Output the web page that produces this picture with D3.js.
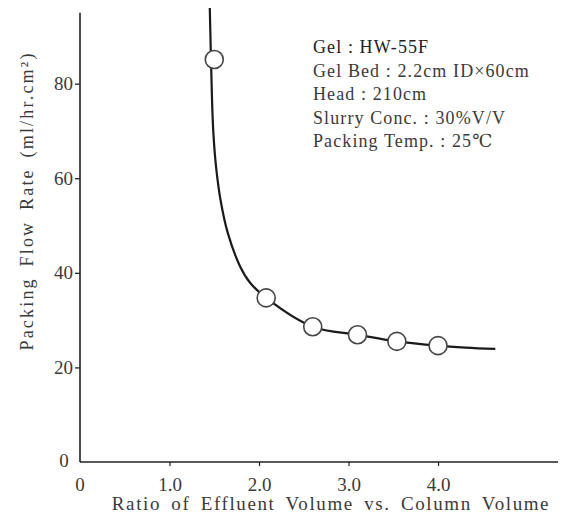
<!DOCTYPE html>
<html>
<head>
<meta charset="utf-8">
<script src="https://cdn.jsdelivr.net/npm/d3@7"></script>
<style>
  body { margin: 0; background: #fff; }
  svg { display: block; }
  text { font-family: 'Liberation Serif', 'DejaVu Serif', serif; fill: #3a3a3a; }
</style>
</head>
<body>
<div id="chart"><svg width="579" height="528"></svg></div>
<script>
// measured circles
const pointX = [1.50, 2.08, 2.60, 3.10, 3.54, 4.00];
const pointY = [85.1, 34.7, 28.6, 26.9, 25.5, 24.6];

// hand-drawn trend curve, read along its path
const curveX = [1.45, 1.475, 1.49, 1.52, 1.57, 1.65, 1.79, 1.90, 2.08, 2.60, 3.10, 3.54, 4.00, 4.31, 4.64];
const curveY = [96, 76.6, 69.6, 62.4, 55.4, 48.5, 41.3, 37.9, 34.7, 28.6, 26.9, 25.5, 24.6, 24.2, 23.9];

const xTicks = [1, 2, 3, 4];
const xTickLabels = ['1.0', '2.0', '3.0', '4.0'];
const yTicks = [20, 40, 60, 80];

const notes = [
  'Gel : HW-55F',
  'Gel Bed : 2.2cm ID×60cm',
  'Head : 210cm',
  'Slurry Conc. : 30%V/V',
  'Packing Temp. : 25℃',
];

const SVG = d3.select('#chart svg');

const X0 = 80;
const Y0 = 462;
const FONT = "'Liberation Serif', serif";

const X_SCALE = d3.scaleLinear().domain([0, 5.34]).range([X0, 558]);
const Y_SCALE = d3.scaleLinear().domain([0, 96]).range([Y0, 8]);

// y axis
const Y_AXIS = d3.axisLeft(Y_SCALE).tickValues(yTicks).tickSize(5).tickSizeOuter(0).tickPadding(2);
const Y_GROUP = SVG.append('g').attr('transform', `translate(${X0},0)`).call(Y_AXIS);
Y_GROUP.select('.domain').attr('d', `M0,${Y_SCALE(95)}V${Y0}`).style('stroke', '#222').style('stroke-width', 1.6);
Y_GROUP.selectAll('line').style('stroke', '#222').style('stroke-width', 1.3);
Y_GROUP.selectAll('text')
  .style('font-size', '19px')
  .style('font-family', FONT)
  .style('fill', '#3a3a3a');

// x axis
const X_AXIS = d3.axisBottom(X_SCALE).tickValues(xTicks).tickFormat((d, i) => xTickLabels[i]).tickSize(4).tickSizeOuter(0);
const X_GROUP = SVG.append('g').attr('transform', `translate(0,${Y0})`).call(X_AXIS);
X_GROUP.select('.domain').attr('d', `M${X0},0H${X_SCALE(5.34)}`).style('stroke', '#222').style('stroke-width', 1.6);
X_GROUP.selectAll('line').style('stroke', '#222').style('stroke-width', 1.2);
X_GROUP.selectAll('text')
  .attr('y', 29)
  .attr('dy', null)
  .style('font-size', '19px')
  .style('font-family', FONT)
  .style('fill', '#3a3a3a');

// zeros at the origin
SVG.append('text').attr('x', 64).attr('y', Y0 + 5).attr('text-anchor', 'middle').style('font-size', '19px').text('0');
SVG.append('text').attr('x', X0).attr('y', Y0 + 29).attr('text-anchor', 'middle').style('font-size', '19px').text('0');

// axis titles
SVG.append('text')
  .attr('x', 331)
  .attr('y', 510)
  .attr('text-anchor', 'middle')
  .style('font-size', '19px')
  .style('letter-spacing', '1.6px')
  .style('word-spacing', '4px')
  .text('Ratio of Effluent Volume vs. Column Volume');

SVG.append('text')
  .attr('transform', 'translate(33,201) rotate(-90)')
  .attr('text-anchor', 'middle')
  .style('font-size', '18px')
  .style('letter-spacing', '2.2px')
  .style('word-spacing', '4px')
  .text('Packing Flow Rate (ml/hr.cm²)');

// curve
const curveData = curveX.map((x, i) => ({ x, y: curveY[i] }));
SVG.append('path')
  .datum(curveData)
  .attr('d', d3.line().x((d) => X_SCALE(d.x)).y((d) => Y_SCALE(d.y)).curve(d3.curveCatmullRom))
  .style('fill', 'none')
  .style('stroke', '#1a1a1a')
  .style('stroke-width', 2.2);

// points
SVG.append('g')
  .selectAll('circle')
  .data(pointX.map((x, i) => ({ x, y: pointY[i] })))
  .join('circle')
  .attr('cx', (d) => X_SCALE(d.x))
  .attr('cy', (d) => Y_SCALE(d.y))
  .attr('r', 9)
  .style('fill', '#fff')
  .style('stroke', '#444')
  .style('stroke-width', 1.6);

// conditions note
SVG.append('g')
  .selectAll('text')
  .data(notes)
  .join('text')
  .attr('x', 313)
  .attr('y', (d, i) => 53 + i * 23.5)
  .style('font-size', '18px')
  .style('letter-spacing', '1.1px')
  .style('fill', (d, i) => (i === 0 ? '#222' : '#3a3a3a'))
  .text((d) => d);
</script>
</body>
</html>
